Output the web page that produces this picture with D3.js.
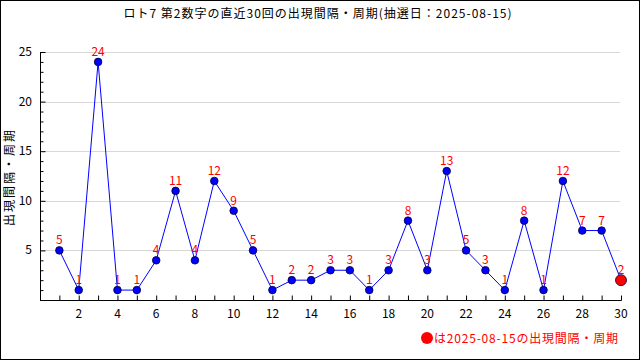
<!DOCTYPE html>
<html>
<head>
<meta charset="utf-8">
<script src="https://cdn.jsdelivr.net/npm/d3@7"></script>
<style>
  body { margin: 0; background: #fff; }
  svg { display: block; font-family: "Noto Sans CJK JP", "DejaVu Sans", sans-serif; }
</style>
</head>
<body>
<div id="chart"></div>
<script>
// Data
const draws = d3.range(1, 31);
const gaps = [5, 1, 24, 1, 1, 4, 11, 4, 12, 9, 5, 1, 2, 2, 3, 3, 1, 3, 8, 3, 13, 5, 3, 1, 8, 1, 12, 7, 7, 2];
const yTicks = [5, 10, 15, 20, 25];
const xLabels = d3.range(2, 31, 2);
const title = "ロト7 第2数字の直近30回の出現間隔・周期(抽選日：2025-08-15)";
const legendText = "は2025-08-15の出現間隔・周期";

const W = 640, H = 360;
const svg = d3.select("#chart").append("svg")
    .attr("width", W)
    .attr("height", H);

svg.append("rect")
    .attr("x", 0.5).attr("y", 0.5)
    .attr("width", W - 1).attr("height", H - 1)
    .attr("fill", "#fff").attr("stroke", "#000");

const x = d3.scaleLinear().domain([0, 30]).range([40, 621]);
const y = d3.scaleLinear().domain([0, 25]).range([300, 52]);

// Gridlines
svg.append("g")
    .selectAll("line")
    .data(yTicks)
    .join("line")
    .attr("x1", 40).attr("x2", 620)
    .attr("y1", d => Math.round(y(d)) + 0.5)
    .attr("y2", d => Math.round(y(d)) + 0.5)
    .attr("stroke", "#d8d8d8");

// Y axis (ticks inward)
const yAxis = svg.append("g")
    .attr("transform", "translate(40.5,0)")
    .call(d3.axisRight(y).tickValues(d3.range(1, 26)).tickSize(4).tickFormat(""));
yAxis.select(".domain").attr("d", "M0,52V300.5");
yAxis.selectAll(".tick line").attr("x2", d => d % 5 === 0 ? 5 : 3);

svg.append("g")
    .selectAll("text")
    .data(yTicks)
    .join("text")
    .attr("x", 32)
    .attr("y", d => y(d) + 4)
    .attr("text-anchor", "end")
    .style("font-size", "12px")
    .text(d => d);

// X axis (ticks inward)
const xAxis = svg.append("g")
    .attr("transform", "translate(0,300.5)")
    .call(d3.axisTop(x).tickValues(draws).tickSize(5).tickFormat(""));
xAxis.select(".domain").attr("d", "M40,0H621.5");

svg.append("g")
    .selectAll("text")
    .data(xLabels)
    .join("text")
    .attr("x", d => x(d))
    .attr("y", 318)
    .attr("text-anchor", "middle")
    .style("font-size", "12px")
    .text(d => d);

// Line
const pts = draws.map((d, i) => ({ n: d, v: gaps[i] }));
svg.append("path")
    .datum(pts)
    .attr("fill", "none")
    .attr("stroke", "#0000ff")
    .attr("stroke-width", 1)
    .attr("d", d3.line().x(d => x(d.n)).y(d => y(d.v)));

// Points
svg.append("g")
    .selectAll("circle")
    .data(pts)
    .join("circle")
    .attr("cx", d => x(d.n))
    .attr("cy", d => y(d.v))
    .attr("r", (d, i) => i === pts.length - 1 ? 5.5 : 3.8)
    .attr("fill", (d, i) => i === pts.length - 1 ? "#ff0000" : "#0000ff")
    .attr("stroke", "#000033")
    .attr("stroke-width", 0.8);

// Value labels
svg.append("g")
    .selectAll("text")
    .data(pts)
    .join("text")
    .attr("x", d => x(d.n))
    .attr("y", d => y(d.v) - 6)
    .attr("text-anchor", "middle")
    .attr("fill", "#ff0000")
    .style("font-size", "12px")
    .text(d => d.v);

// Title
svg.append("text")
    .attr("x", 318)
    .attr("y", 18)
    .attr("text-anchor", "middle")
    .style("font-size", "12px")
    .style("letter-spacing", "1px")
    .text(title);

// Y axis title
svg.append("text")
    .attr("transform", "translate(14,177) rotate(-90)")
    .attr("text-anchor", "middle")
    .style("font-size", "12px")
    .style("letter-spacing", "2px")
    .text("出現間隔・周期");

// Legend
svg.append("circle")
    .attr("cx", 427).attr("cy", 338).attr("r", 6)
    .attr("fill", "#ff0000");
svg.append("text")
    .attr("x", 434)
    .attr("y", 343)
    .attr("fill", "#ff0000")
    .style("font-size", "12px")
    .style("letter-spacing", "0.8px")
    .text(legendText);
</script>
</body>
</html>
